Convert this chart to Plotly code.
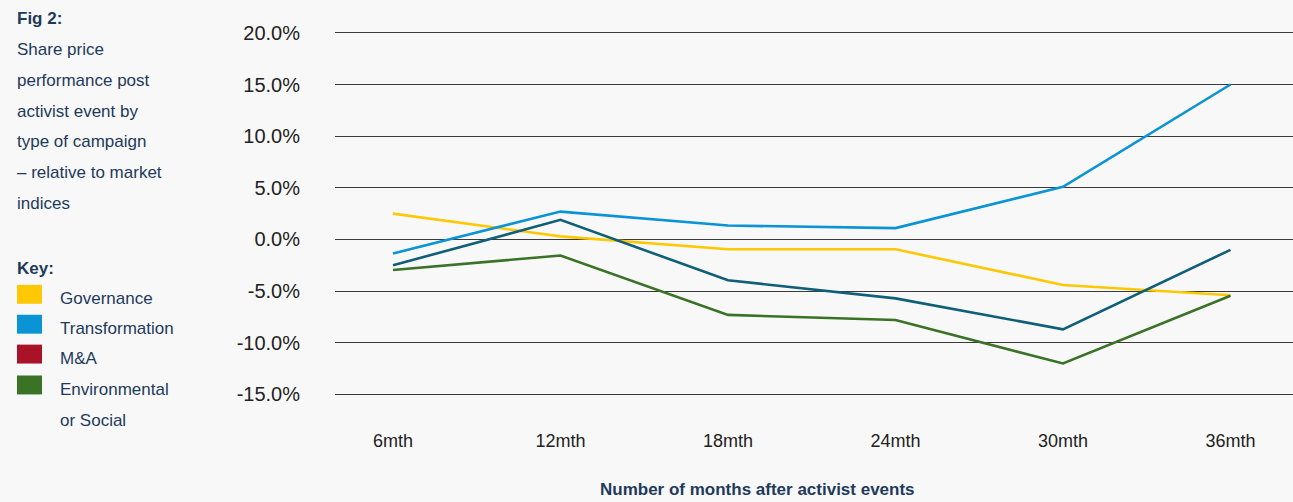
import plotly.graph_objects as go

W, H = 1293, 502

months = ["6mth", "12mth", "18mth", "24mth", "30mth", "36mth"]
governance = [2.5, 0.3, -0.95, -0.95, -4.4, -5.4]
transformation = [-1.35, 2.7, 1.35, 1.1, 5.1, 15.0]
m_and_a = [-2.5, 1.9, -3.95, -5.7, -8.7, -1.0]
environmental = [-2.95, -1.55, -7.3, -7.8, -12.0, -5.45]

y_ticks = [20, 15, 10, 5, 0, -5, -10, -15]

key_labels = ["Governance", "Transformation", "M&A", "Environmental<br>or Social"]
key_colors = ["#FEC804", "#0A94D6", "#AA1228", "#3A7226"]
line_colors = {"Governance": "#FEC804", "Transformation": "#0A94D6",
               "M&A": "#0F5F78", "Environmental": "#3A7226"}

caption = ["Share price", "performance post", "activist event by",
           "type of campaign", "– relative to market", "indices"]

NAVY = "#1E3A5C"
BG = "#F8F8F8"
SIDE_FONT = dict(family="Liberation Sans, Arial", size=17, color=NAVY)

fig = go.Figure()
for name, vals in [("Governance", governance), ("Transformation", transformation),
                   ("M&A", m_and_a), ("Environmental", environmental)]:
    fig.add_trace(go.Scatter(x=months, y=vals, mode="lines", name=name,
                             line=dict(color=line_colors[name], width=2.6),
                             showlegend=False))


def px(x):
    return x / W


def py(y):
    return 1 - y / H


def side_text(x, y, text):
    return dict(x=px(x), y=py(y), text=text, showarrow=False,
                xref="paper", yref="paper", xanchor="left", yanchor="middle",
                font=SIDE_FONT)


annotations = [side_text(15, 18, "<b>Fig 2:</b>")]
for i, line in enumerate(caption):
    annotations.append(side_text(15, 49 + i * 30.8, line))
annotations.append(side_text(15, 269, "<b>Key:</b>"))

shapes = []
key_y = [299, 329, 359, 390]
for lab, col, yy in zip(key_labels, key_colors, key_y):
    shapes.append(dict(type="rect", xref="paper", yref="paper",
                       x0=px(17), x1=px(42), y0=py(yy - 14), y1=py(yy + 5),
                       fillcolor=col, line=dict(width=0)))
    parts = lab.split("<br>")
    for j, part in enumerate(parts):
        annotations.append(side_text(58, yy + 31 * j, part))

# X axis title
annotations.append(dict(x=px(757), y=py(490), text="<b>Number of months after activist events</b>",
                        showarrow=False, xref="paper", yref="paper",
                        xanchor="center", yanchor="middle",
                        font=dict(family="Liberation Sans, Arial", size=17, color=NAVY)))

plot_top, plot_bottom = 22, 405
px_per_pct = 10.4
y_top = 20 + (32 - plot_top) / px_per_pct
y_bot = -15 - (plot_bottom - 395) / px_per_pct

x_left_px, x_right_px = 335, W
x0_px, step = 393, 167.5
x_lo = -(x0_px - x_left_px) / step
x_hi = (x_right_px - x0_px) / step

fig.update_layout(
    width=W, height=H,
    margin=dict(l=0, r=0, t=0, b=0),
    paper_bgcolor=BG, plot_bgcolor=BG,
    xaxis=dict(domain=[x_left_px / W, 1], range=[x_lo, x_hi], showgrid=False,
               zeroline=False, showline=False, ticks="", ticklabelstandoff=24,
               tickfont=dict(family="Liberation Sans, Arial", size=18, color="#222222")),
    yaxis=dict(domain=[1 - plot_bottom / H, 1 - plot_top / H], range=[y_bot, y_top],
               tickvals=y_ticks, ticktext=[f"{v:.1f}%" for v in y_ticks],
               showgrid=True, gridcolor="#3A3A3A", gridwidth=1.4,
               zeroline=False, showline=False, ticks="", ticklabelstandoff=34,
               tickfont=dict(family="Liberation Sans, Arial", size=20, color="#222222")),
    annotations=annotations,
    shapes=shapes,
)

fig.write_html("out.html")
